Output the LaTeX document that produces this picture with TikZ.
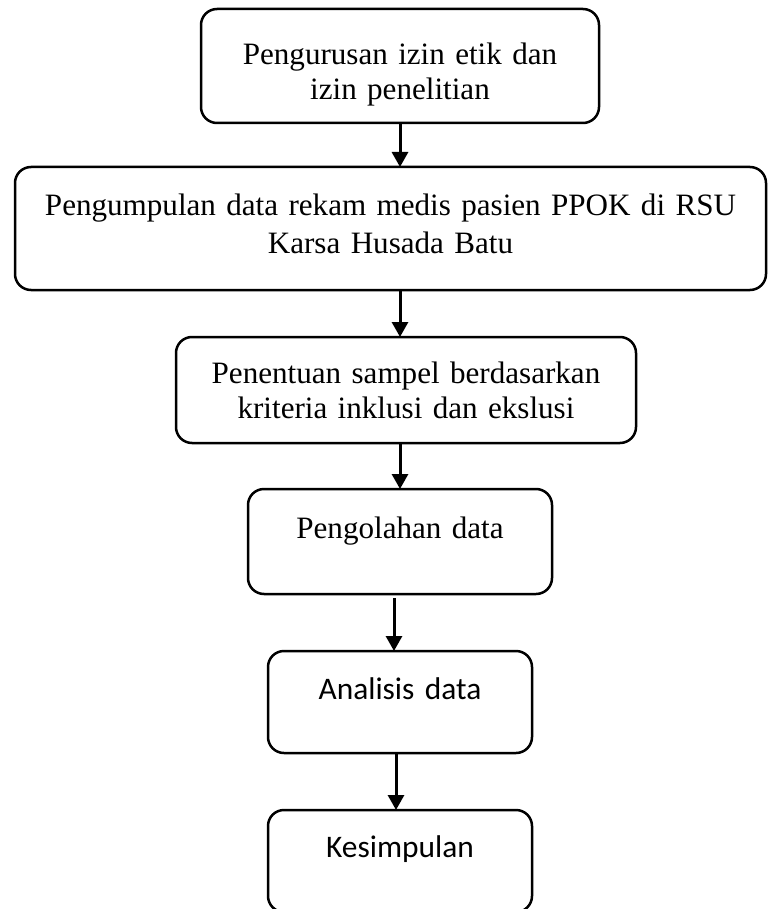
\documentclass[tikz,border=0pt]{standalone}
\usepackage{fontspec}
\usepackage{tikz}
\usetikzlibrary{arrows.meta}
\setmainfont{Liberation Serif}
\newfontfamily\calibri{Carlito}

\begin{document}
\begin{tikzpicture}[y=1pt,x=1pt,yscale=-1, inner sep=0pt, outer sep=0pt,
  stepbox/.style={draw=black,line width=2.5pt,rounded corners=16pt,anchor=north,
    align=center,font=\fontsize{31.1}{35}\selectfont},
  flow/.style={draw=black,line width=3pt,-{Triangle[width=16pt,length=15pt]}}]
  \useasboundingbox (0,0) rectangle (768,909);
  \node[stepbox,minimum width=398,text width=380,text height=56,text depth=58]
    (izin) at (400,9) {Pengurusan izin etik dan\\izin penelitian};
  \node[stepbox,minimum width=751,text width=730,text height=48,text depth=75,
    font=\fontsize{31.1}{38}\selectfont]
    (kumpul) at (390.5,167) {Pengumpulan data rekam medis pasien PPOK di RSU\\Karsa Husada Batu};
  \node[stepbox,minimum width=460,text width=440,text height=46,text depth=60]
    (sampel) at (406,337) {Penentuan sampel berdasarkan\\kriteria inklusi dan ekslusi};
  \node[stepbox,minimum width=304,text width=290,text height=49,text depth=56]
    (olah) at (400,489) {Pengolahan data};
  \node[stepbox,minimum width=264,text width=250,text height=48,text depth=54,
    font=\calibri\fontsize{31.4}{35}\selectfont]
    (analisis) at (400,651) {Analisis data};
  \node[stepbox,minimum width=264,text width=250,text height=47,text depth=55,
    font=\calibri\fontsize{31.4}{35}\selectfont]
    (simpulan) at (400,810) {Kesimpulan};
  \draw[flow] (izin.south) -- (izin.south |- kumpul.north);
  \draw[flow] (izin.south |- kumpul.south) -- (izin.south |- sampel.north);
  \draw[flow] (izin.south |- sampel.south) -- (izin.south |- olah.north);
  \draw[flow,shorten <=4pt] ([xshift=-6]olah.south) -- ([xshift=-6]olah.south |- analisis.north);
  \draw[flow] ([xshift=-4]analisis.south) -- ([xshift=-4]analisis.south |- simpulan.north);
\end{tikzpicture}
\end{document}
